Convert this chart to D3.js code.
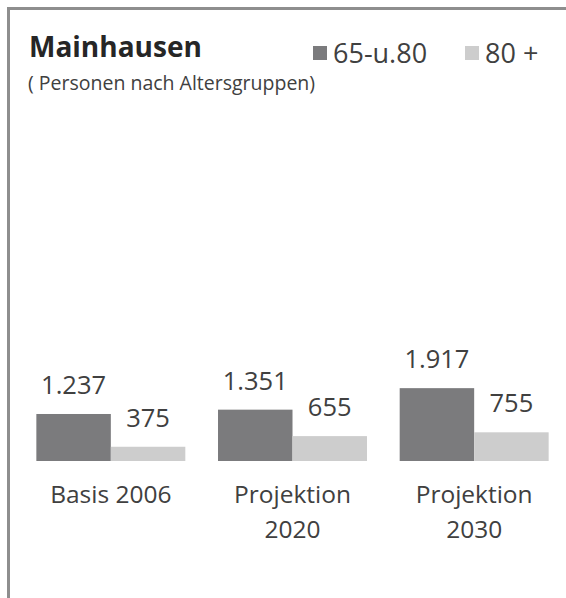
<!DOCTYPE html>
<html>
<head>
<meta charset="utf-8">
<script src="https://cdn.jsdelivr.net/npm/d3@7"></script>
<style>
  html, body { margin: 0; padding: 0; background: #fff; }
  svg { display: block; font-family: "Open Sans", sans-serif; }
</style>
</head>
<body>
<svg id="chart" width="566" height="598"></svg>
<script>
// Mainhausen – persons by age group, base 2006 and projections
const categories = [["Basis 2006"], ["Projektion", "2020"], ["Projektion", "2030"]];
const seriesNames = ["65-u.80", "80 +"];
const age65to80 = [1237, 1351, 1917];
const age80plus = [375, 655, 755];

const colors = ["#7b7b7d", "#cdcdcd"];
const W = 566, H = 598, BASE = 461;

const de = d3.formatLocale({ decimal: ",", thousands: ".", grouping: [3], currency: ["", " €"] });
const fmt = de.format(",d");

const svg = d3.select("#chart");

// frame (top + left edge visible in the original)
svg.append("path")
  .attr("d", `M8.5,${H} L8.5,8.5 L${W},8.5`)
  .attr("fill", "none").attr("stroke", "#8e8e8e").attr("stroke-width", 3);

const x0 = d3.scaleBand().domain(d3.range(categories.length))
  .range([20, 565]).paddingInner(0.18).paddingOuter(0.09);
const x1 = d3.scaleBand().domain(d3.range(seriesNames.length))
  .range([0, x0.bandwidth()]);
const y = d3.scaleLinear().domain([0, 10000]).range([BASE, BASE - 380]);

const rows = categories.map((c, i) => ({ cat: c, vals: [age65to80[i], age80plus[i]] }));

const grp = svg.append("g").selectAll("g").data(rows).join("g")
  .attr("transform", (d, i) => `translate(${x0(i)},0)`);

grp.selectAll("rect").data(d => d.vals).join("rect")
  .attr("x", (v, j) => x1(j))
  .attr("width", x1.bandwidth())
  .attr("y", v => y(v))
  .attr("height", v => BASE - y(v))
  .attr("fill", (v, j) => colors[j]);

grp.selectAll("text.val").data(d => d.vals).join("text")
  .attr("class", "val")
  .attr("x", (v, j) => x1(j) + x1.bandwidth() / 2)
  .attr("y", v => y(v) - 20)
  .attr("text-anchor", "middle")
  .attr("font-size", 25.5).attr("fill", "#404040")
  .text(v => fmt(v));

// category labels
grp.append("text")
  .attr("x", x0.bandwidth() / 2).attr("y", 503)
  .attr("text-anchor", "middle").attr("font-size", 24.5).attr("fill", "#404040")
  .selectAll("tspan").data(d => d.cat).join("tspan")
  .attr("x", x0.bandwidth() / 2)
  .attr("dy", (t, k) => k ? 35 : 0)
  .text(t => t);

// title
svg.append("text").attr("x", 29).attr("y", 57)
  .attr("font-size", 28).attr("font-weight", 700).attr("fill", "#262626")
  .text("Mainhausen");
svg.append("text").attr("x", 28).attr("y", 90)
  .attr("font-size", 19.5).attr("fill", "#404040")
  .text("( Personen nach Altersgruppen)");

// legend
const legX = [313, 465];
const leg = svg.append("g").selectAll("g").data(seriesNames).join("g")
  .attr("transform", (d, i) => `translate(${legX[i]},0)`);
leg.append("rect").attr("x", 0).attr("y", 46).attr("width", 14).attr("height", 14)
  .attr("fill", (d, i) => colors[i]);
leg.append("text").attr("x", 20).attr("y", 63)
  .attr("font-size", 27).attr("fill", "#404040")
  .text(d => d);
</script>
</body>
</html>
